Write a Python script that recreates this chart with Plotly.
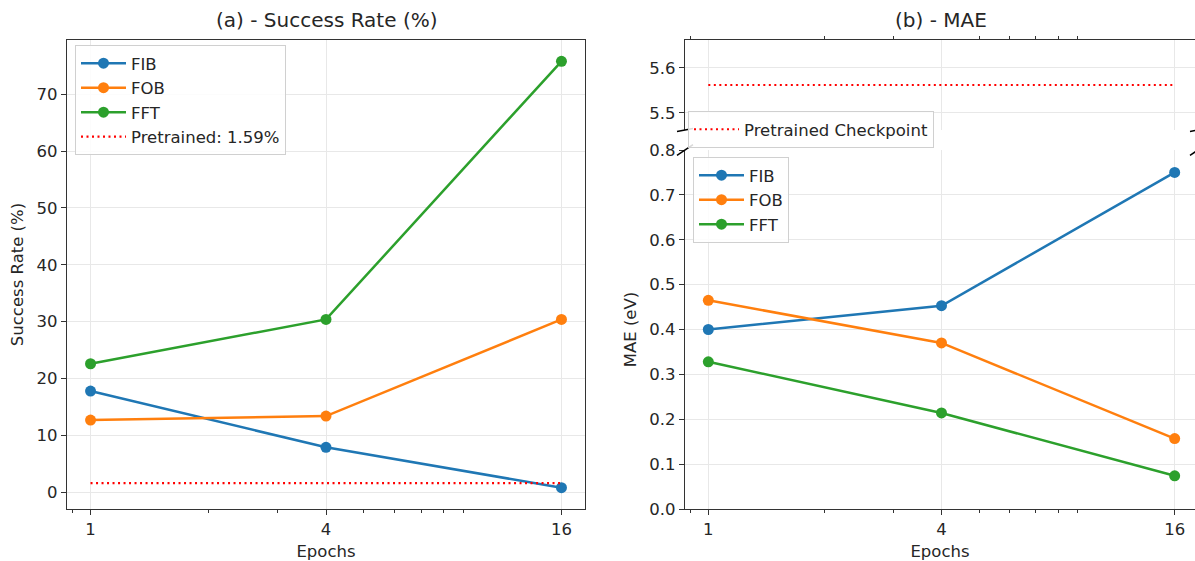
import plotly.graph_objects as go

# ---- data ----
epochs = [1, 4, 16]
epoch_labels = ["1", "4", "16"]
minor_epoch_ticks = [0.9, 2, 3, 5, 6, 7, 8, 9]
series_names = ["FIB", "FOB", "FFT"]
series_colors = ["#1f77b4", "#ff7f0e", "#2ca02c"]

success_fib = [17.8, 7.9, 0.8]
success_fob = [12.7, 13.4, 30.4]
success_fft = [22.6, 30.4, 75.8]
pretrained_success = 1.59

mae_fib = [0.400, 0.453, 0.750]
mae_fob = [0.465, 0.370, 0.157]
mae_fft = [0.328, 0.214, 0.074]
pretrained_mae = 5.562

success_ticks = [0, 10, 20, 30, 40, 50, 60, 70]
mae_low_ticks = [0.0, 0.1, 0.2, 0.3, 0.4, 0.5, 0.6, 0.7, 0.8]
mae_high_ticks = [5.5, 5.6]

# ---- layout constants ----
W, H = 1195, 561
FONT = "DejaVu Sans"
TXT = "#262626"
SPINE = "#333333"
GRID = "#e8e8e8"
FS = 16.5
DOT = "2px,3.5px"

def px(x):
    return x / W

def py(y):
    return (H - y) / H

left_dom = [px(67), px(585)]
right_dom = [px(685), 1.0]
left_ydom = [py(509), py(40)]
rb_ydom = [py(509), py(150)]
rt_ydom = [py(130), py(40)]

fig = go.Figure()

success = [success_fib, success_fob, success_fft]
for name, col, vals in zip(series_names, series_colors, success):
    fig.add_trace(go.Scatter(
        x=epochs, y=vals, name=name, mode="lines+markers",
        line=dict(color=col, width=2.5), marker=dict(color=col, size=11),
        xaxis="x", yaxis="y", legend="legend"))
fig.add_trace(go.Scatter(
    x=[epochs[0], epochs[-1]], y=[pretrained_success] * 2,
    name=f"Pretrained: {pretrained_success}%", mode="lines",
    line=dict(color="red", width=2.2, dash=DOT),
    xaxis="x", yaxis="y", legend="legend"))

mae = [mae_fib, mae_fob, mae_fft]
for name, col, vals in zip(series_names, series_colors, mae):
    fig.add_trace(go.Scatter(
        x=epochs, y=vals, name=name, mode="lines+markers",
        line=dict(color=col, width=2.5), marker=dict(color=col, size=11),
        xaxis="x2", yaxis="y2", legend="legend3"))
fig.add_trace(go.Scatter(
    x=[epochs[0], epochs[-1]], y=[pretrained_mae] * 2,
    name="Pretrained Checkpoint", mode="lines",
    line=dict(color="red", width=2.2, dash=DOT),
    xaxis="x3", yaxis="y3", legend="legend2"))

tickfont = dict(family=FONT, size=FS, color=TXT)
titlefont = dict(family=FONT, size=FS, color=TXT)

def xax(domain, rng, anchor, **kw):
    d = dict(type="log", domain=domain, range=rng, anchor=anchor,
             tickvals=epochs, ticktext=epoch_labels, ticks="outside",
             ticklen=5, tickcolor=SPINE, showline=True, linecolor=SPINE,
             linewidth=1.2, showgrid=True, gridcolor=GRID, gridwidth=1,
             zeroline=False, tickfont=tickfont,
             minor=dict(tickvals=minor_epoch_ticks, ticks="outside",
                        ticklen=3, tickcolor=SPINE, showgrid=False))
    d.update(kw)
    return d

def yax(domain, rng, anchor, tickvals, fmt, **kw):
    d = dict(domain=domain, range=rng, anchor=anchor, tickvals=tickvals,
             tickformat=fmt, ticks="outside", ticklen=5, tickcolor=SPINE,
             showline=True, linecolor=SPINE, linewidth=1.2, showgrid=True,
             gridcolor=GRID, gridwidth=1, zeroline=False, tickfont=tickfont)
    d.update(kw)
    return d

legend_common = dict(bgcolor="rgba(255,255,255,0.85)", bordercolor="#d0d0d0",
                     borderwidth=1, font=dict(family=FONT, size=FS, color=TXT),
                     xref="paper", yref="paper", itemclick=False, itemwidth=45)

fig.update_layout(
    width=W, height=H,
    margin=dict(l=0, r=0, t=0, b=0, pad=0, autoexpand=False),
    paper_bgcolor="white", plot_bgcolor="white",
    font=dict(family=FONT, size=FS, color=TXT),
    xaxis=xax(left_dom, [-0.0602, 1.2643], "y", mirror=True,
              title=dict(text="Epochs", font=titlefont, standoff=7)),
    yaxis=yax(left_ydom, [-2.95, 79.55], "x", success_ticks, "d", mirror=True,
              title=dict(text="Success Rate (%)", font=titlefont, standoff=8)),
    xaxis2=xax(right_dom, [-0.0602, 1.2566], "y2",
               title=dict(text="Epochs", font=titlefont, standoff=7)),
    yaxis2=yax(rb_ydom, [0, 0.8], "x2", mae_low_ticks, ".1f",
               title=dict(text="MAE (eV)", font=titlefont, standoff=8)),
    xaxis3=xax(right_dom, [-0.0602, 1.2566], "y3", side="top",
               showticklabels=False, ticks=""),
    yaxis3=yax(rt_ydom, [5.462, 5.662], "x3", mae_high_ticks, ".1f"),
    legend=dict(legend_common, x=px(75), y=py(45), xanchor="left", yanchor="top"),
    legend2=dict(legend_common, x=px(688), y=py(129.5), xanchor="left", yanchor="middle"),
    legend3=dict(legend_common, x=px(693), y=py(157), xanchor="left", yanchor="top"),
    showlegend=True,
)

# titles
fig.add_annotation(text="(a) - Success Rate (%)", x=(left_dom[0] + left_dom[1]) / 2,
                   y=py(20), xref="paper", yref="paper", showarrow=False,
                   xanchor="center", yanchor="middle",
                   font=dict(family=FONT, size=20, color=TXT))
fig.add_annotation(text="(b) - MAE", x=(px(685) + px(1198)) / 2,
                   y=py(20), xref="paper", yref="paper", showarrow=False,
                   xanchor="center", yanchor="middle",
                   font=dict(family=FONT, size=20, color=TXT))

# broken-axis marks
def seg(x0, y0, x1, y1):
    fig.add_shape(type="line", xref="paper", yref="paper",
                  x0=px(x0), y0=py(y0), x1=px(x1), y1=py(y1),
                  line=dict(color="black", width=1.5))

for xc in (685, 1198):
    seg(xc - 8, 131.4, xc + 8, 128.6)
    seg(xc - 8, 155.4, xc + 8, 144.6)

fig.write_html(
    "out.html",
    config={"displayModeBar": False},
    post_script="document.body.style.margin='0';document.body.style.overflow='hidden';",
)
